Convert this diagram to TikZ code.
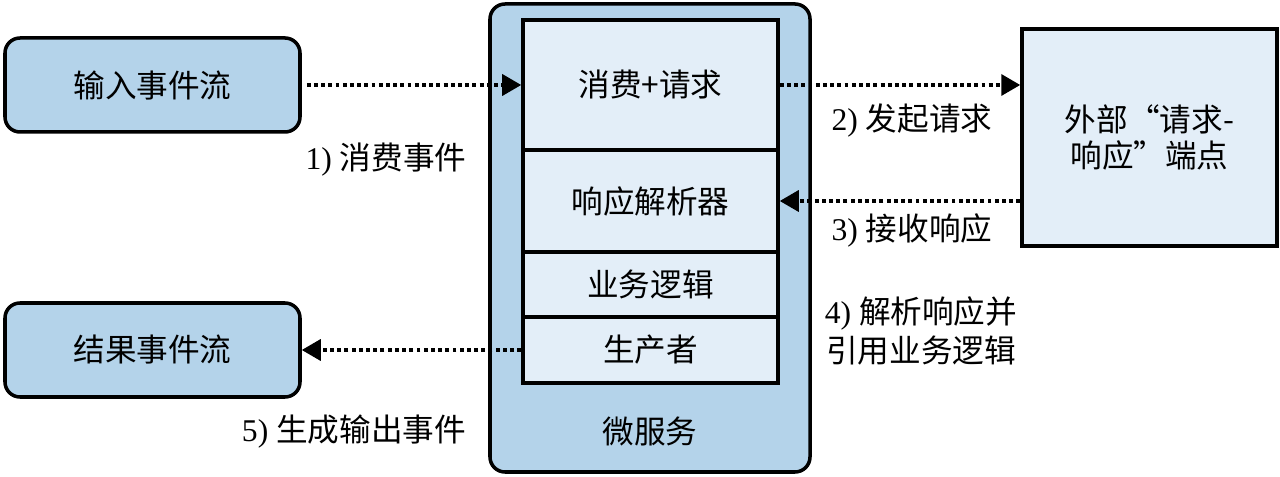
\documentclass[tikz,border=0pt]{standalone}
\usepackage{fontspec}
\setmainfont{Liberation Serif}
\newfontfamily\cjk{Noto Sans CJK SC}
\usepackage{tikz}
\usetikzlibrary{arrows.meta, positioning, calc}
\definecolor{svcblue}{RGB}{180,211,234}
\definecolor{paleblue}{RGB}{227,238,248}
\tikzset{
	labeltext/.style={font=\fontsize{18}{21}\selectfont, align=center}
}
\tikzset{
	flow/.style={line width=2pt, dash pattern=on 2.2pt off 1.9pt, -{Triangle[length=0.38cm,width=0.42cm]}}
}

\begin{document}
\begin{tikzpicture}[stream/.style={draw, line width=2pt, rounded corners=0.3cm, fill=svcblue, minimum width=5.9cm, minimum height=1.88cm, labeltext},
    part/.style={draw, line width=2pt, fill=paleblue, minimum width=5.1cm, inner sep=0pt, labeltext}]
      \useasboundingbox (0,0) rectangle (25.6,-9.54);
      \node[stream] (in) at (3.05,-1.7) {\cjk 输入事件流};
      \node[stream] (out) at (3.05,-7.0) {\cjk 结果事件流};
      \node[draw, line width=2pt, rounded corners=0.3cm, fill=svcblue, minimum width=6.4cm, minimum height=9.36cm] (svc) at (13.0,-4.76) {};
      \node[part, minimum height=2.6cm] (consume) at (13.01,-1.7) {\cjk 消费+请求};
      \node[part, minimum height=2.04cm] (parser) at (13.01,-4.02) {\cjk 响应解析器};
      \node[part, minimum height=1.3cm] (logic) at (13.01,-5.69) {\cjk 业务逻辑};
      \node[part, minimum height=1.32cm] (producer) at (13.01,-7.0) {\cjk 生产者};
      \node[labeltext] (svcname) at (13.0,-8.62) {\cjk 微服务};
      \node[part, minimum width=5.1cm, minimum height=4.34cm] (ext) at (22.99,-2.75) {\cjk 外部“请求-\\\cjk 响应”端点};

      \draw[flow] ($(in.east)+(0.1,0)$) -- (consume);
      \draw[flow] (consume.east) -- (consume.east -| ext.west);
      \draw[flow] (parser.east -| ext.west) -- (parser.east);
      \draw[flow] (producer.west) -- (out.east);

      \node[labeltext] (l1) at (7.72,-3.2) {1) {\cjk 消费事件}};
      \node[labeltext] (l2) at (18.24,-2.42) {2) {\cjk 发起请求}};
      \node[labeltext] (l3) at (18.24,-4.6) {3) {\cjk 接收响应}};
      \node[labeltext, font=\fontsize{18}{22}\selectfont] (l4) at (18.42,-6.62) {4) {\cjk 解析响应并}\\{\cjk 引用业务逻辑}};
      \node[labeltext] (l5) at (7.08,-8.64) {5) {\cjk 生成输出事件}};
    \end{tikzpicture}
\end{document}
